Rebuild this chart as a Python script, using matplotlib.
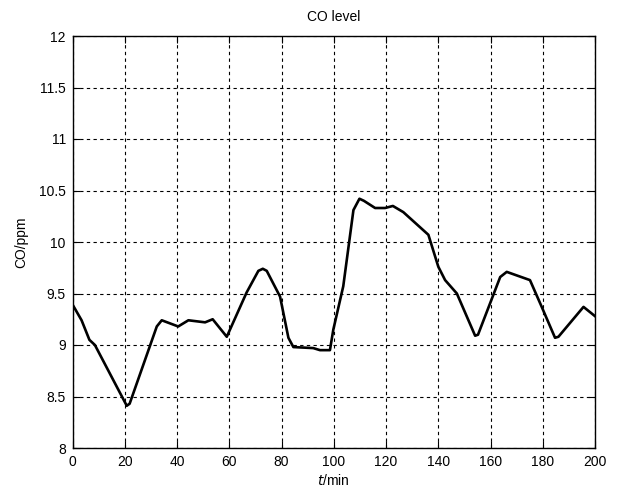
import matplotlib
matplotlib.use("Agg")
import matplotlib.pyplot as plt

t_min = [0, 3.4, 6.4, 8.5, 20.7, 21.8, 32.2, 34.1, 40.4, 44.3, 50.7, 53.6, 59.0, 66.6,
         71.1, 72.8, 74.3, 79.4, 82.6, 84.5, 92.1, 94.7, 98.5, 99.8, 103.6, 107.5,
         109.8, 111.5, 115.8, 119.6, 122.6, 126.6, 136.2, 140.0, 142.6, 147.1, 154.1,
         155.2, 163.7, 166.2, 175.1, 179.6, 184.7, 186.0, 195.6, 200]
co_ppm = [9.39, 9.24, 9.05, 9.00, 8.41, 8.43, 9.18, 9.24, 9.18, 9.24, 9.22, 9.25, 9.08, 9.51,
          9.72, 9.74, 9.72, 9.47, 9.07, 8.98, 8.97, 8.95, 8.95, 9.15, 9.57, 10.31,
          10.42, 10.40, 10.33, 10.33, 10.35, 10.29, 10.07, 9.76, 9.63, 9.50, 9.09,
          9.10, 9.66, 9.71, 9.63, 9.37, 9.07, 9.08, 9.37, 9.28]
x_ticks = [0, 20, 40, 60, 80, 100, 120, 140, 160, 180, 200]
y_ticks = [8, 8.5, 9, 9.5, 10, 10.5, 11, 11.5, 12]
y_tick_labels = ["8", "8.5", "9", "9.5", "10", "10.5", "11", "11.5", "12"]

plt.rcParams['font.family'] = ['Liberation Sans', 'DejaVu Sans']
fig = plt.figure(figsize=(6.18, 4.92), dpi=100)
ax = fig.add_axes([72.7/618, 44/492, (595-72.7)/618, (448-36)/492])
ax.plot(t_min, co_ppm, color='black', linewidth=1.9, solid_joinstyle='round')
ax.set_xlim(0, 200)
ax.set_ylim(8, 12)
ax.set_xticks(x_ticks)
ax.set_yticks(y_ticks)
ax.set_yticklabels(y_tick_labels)
ax.grid(True, color='black', linestyle=(0, (3, 3)), linewidth=0.8)
ax.tick_params(direction='in', top=True, right=True, labelsize=10, length=5, pad=5)
for s in ax.spines.values():
    s.set_linewidth(1.0)
ax.set_title("CO level", fontsize=10, pad=11)
ax.set_xlabel(r"$t$/min", fontsize=10, labelpad=3)
ax.set_ylabel("CO/ppm", fontsize=10, labelpad=8)
fig.savefig("out.png", dpi=100)
